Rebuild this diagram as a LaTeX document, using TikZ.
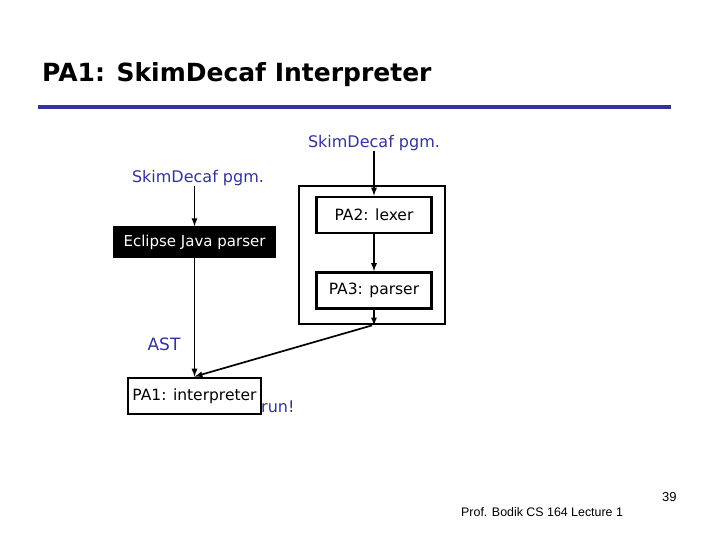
\documentclass[tikz,border=0pt]{standalone}
\usepackage{fontspec}
\setmainfont{DejaVu Sans}
\newfontfamily\footfont{Liberation Sans}
\usetikzlibrary{calc}
\definecolor{slideblue}{RGB}{51,51,153}
\tikzstyle{stage}=[
    draw,
    line width=2.8pt,
    minimum width=115pt,
    minimum height=36pt,
    inner sep=0pt,
    font=\fontsize{15.5}{18}\selectfont
]
\tikzstyle{bluetext}=[
    text=slideblue,
    inner sep=0pt,
    font=\fontsize{16}{19}\selectfont
]
\tikzstyle{flow}=[->, >=latex, line width=1.7pt]

\begin{document}
\begin{tikzpicture}[x=1pt,y=-1pt]
        \useasboundingbox (0,0) rectangle (720,540);

        % title
        \node[anchor=base west, inner sep=0pt, font=\bfseries\fontsize{25}{29}\selectfont] (title) at (42,82) {PA1: SkimDecaf Interpreter};
        \draw[slideblue, line width=4pt] (38,107) -- (671,107);

        % lexer + parser
        \node[draw, line width=2.8pt, minimum width=146pt, minimum height=138pt] (front) at (372,255) {};
        \node[bluetext] (srcR) at (374,143) {SkimDecaf pgm.};
        \node[stage] (lexer) at (374,215) {PA2: lexer};
        \node[stage] (parser) at (374,290.5) {PA3: parser};

        % eclipse
        \node[bluetext] (srcL) at (198,178) {SkimDecaf pgm.};
        \node[fill=black, text=white, minimum width=163pt, minimum height=31pt, inner sep=0pt, font=\fontsize{15}{18}\selectfont] (eclipse) at (194.5,242) {Eclipse Java parser};

        % interpreter
        \node[bluetext, font=\fontsize{17}{20}\selectfont] (ast) at (164,344) {AST};
        \node[stage, minimum width=133pt] (interp) at (194.5,396) {PA1: interpreter};
        \node[bluetext, anchor=west] (run) at (261,407) {run!};

        \draw[flow] (srcR) -- (lexer);
        \draw[flow] (lexer) -- (parser);
        \draw[flow] (parser.south) -- (parser.south |- front.south);
        \draw[flow] (eclipse.north |- srcL.south) -- (eclipse.north);
        \draw[flow] (eclipse) -- (interp);
        \draw[flow] (front.south) -- (interp.north);

        % footer
        \node[anchor=base west, inner sep=0pt, font=\footfont\fontsize{12.4}{14}\selectfont] (foot) at (461,516) {Prof. Bodik CS 164 Lecture 1};
        \node[anchor=base west, inner sep=0pt, font=\footfont\fontsize{13}{15}\selectfont] (page) at (662,501) {39};
\end{tikzpicture}
\end{document}
